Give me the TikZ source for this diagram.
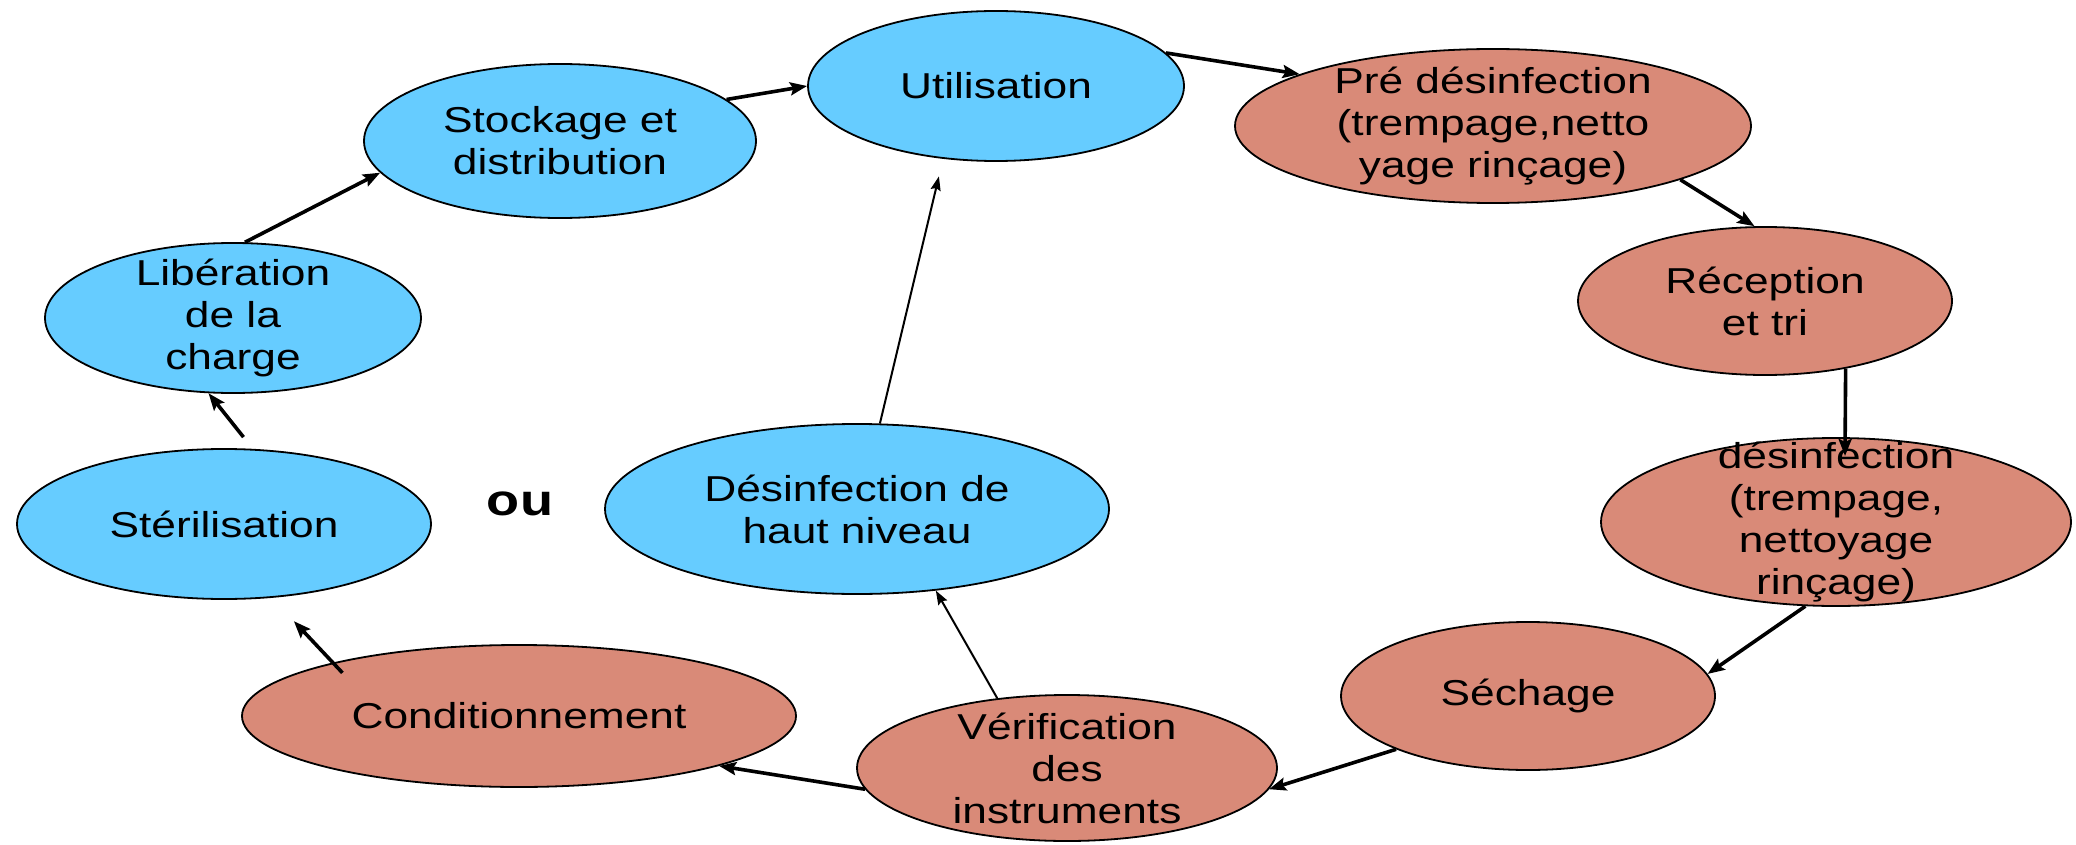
\documentclass[tikz,border=0pt]{standalone}
\usepackage{fontspec}
\setmainfont{Liberation Sans}[FakeStretch=1.23]
\usetikzlibrary{shapes.geometric,arrows.meta}
\definecolor{bluefill}{RGB}{102,204,255}
\definecolor{salmonfill}{RGB}{217,138,120}
\tikzset{
 ell/.style={ellipse, draw=black, line width=1.8pt, inner sep=0pt},
 blueell/.style={ell, fill=bluefill},
 redell/.style={ell, fill=salmonfill},
 txt/.style={align=center, font=\fontsize{36}{42}\selectfont, inner sep=0pt},
 arr/.style={line width=3.6pt, -{Stealth[length=17pt,width=13pt,inset=3pt]}},
 thinarr/.style={line width=2pt, -{Stealth[length=14pt,width=10pt,inset=2pt]}},
}
\begin{document}
\begin{tikzpicture}[x=1pt,y=-1pt]
\useasboundingbox (0,0) rectangle (2076,845);
% ellipses
\node[blueell, minimum width=376pt, minimum height=150pt] (lib) at (233,318) {};
\node[blueell, minimum width=392pt, minimum height=154pt] (stock) at (560,141) {};
\node[blueell, minimum width=376pt, minimum height=150pt] (util) at (996,86) {};
\node[redell, minimum width=516pt, minimum height=154pt] (pre) at (1493,126) {};
\node[redell, minimum width=374pt, minimum height=148pt] (recep) at (1765,301) {};
\node[redell, minimum width=470pt, minimum height=168pt] (dis) at (1836,522) {};
\node[redell, minimum width=374pt, minimum height=148pt] (sech) at (1528,696) {};
\node[redell, minimum width=420pt, minimum height=146pt] (verif) at (1067,768) {};
\node[redell, minimum width=554pt, minimum height=142pt] (cond) at (519,716) {};
\node[blueell, minimum width=414pt, minimum height=150pt] (ster) at (224,524) {};
\node[blueell, minimum width=504pt, minimum height=170pt] (dhn) at (857,509) {};
% texts
\node[txt] (libT) at (lib) {Libération\\de la\\charge};
\node[txt] (stockT) at (stock) {Stockage et\\distribution};
\node[txt] (utilT) at (util) {Utilisation};
\node[txt] (preT) at (pre) {Pré désinfection\\(trempage,netto\\yage rinçage)};
\node[txt] (recepT) at (recep) {Réception\\et tri};
\node[txt] (disT) at (dis) {désinfection\\(trempage,\\nettoyage\\rinçage)};
\node[txt] (sechT) at (sech) {Séchage};
\node[txt] (verifT) at (verif) {Vérification\\des\\instruments};
\node[txt] (condT) at (cond) {Conditionnement};
\node[txt] (sterT) at (ster) {Stérilisation};
\node[txt] (dhnT) at (dhn) {Désinfection de\\haut niveau};
\node[txt, font=\fontsize{44}{48}\selectfont\bfseries] (ou) at (520,504) {ou};
% connectors
\coordinate (dtip) at (1845,456);
\draw[arr] (lib.81) -- (stock.190);
\draw[arr] (stock.14) -- (util.180);
\draw[arr] (util.11) -- (pre.165);
\draw[arr] (pre.344) -- (recep.98);
\draw[arr] (recep.320) -- (dtip);
\draw[arr] (dis.250) -- (sech.7);
\draw[arr] (sech.202) -- (verif.354);
\draw[arr] (verif.186) -- (cond.346);
\draw[arr, shorten <=-14pt, shorten >=32pt] (cond.164) -- (ster.303);
\draw[arr, shorten <=15pt] (ster.69.5) -- (lib.252);
\draw[thinarr] (verif.135) -- (dhn.314);
\draw[thinarr, shorten >=18pt] (dhn.75) -- (util.234);
\end{tikzpicture}
\end{document}
